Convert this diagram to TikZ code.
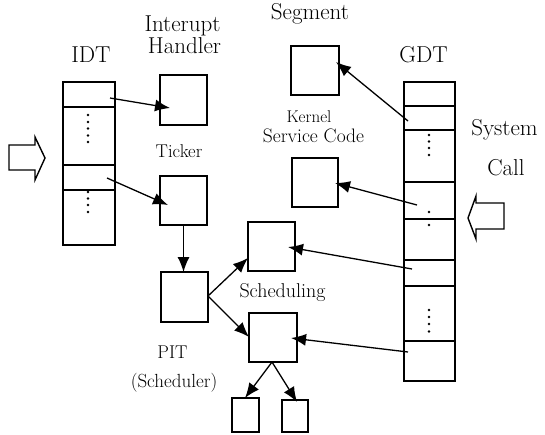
\documentclass[tikz,border=0pt]{standalone}
\usetikzlibrary{arrows.meta}
\begin{document}
\begin{tikzpicture}[x=1pt,y=1pt,
  box/.style={draw,line width=1.4pt,inner sep=0pt,outer sep=0pt},
  idtcell/.style={box,minimum width=52pt},
  gdtcell/.style={box,minimum width=51pt},
  big/.style={font=\fontsize{23}{26}\selectfont,inner sep=0pt,anchor=base},
  small/.style={font=\fontsize{#1}{20}\selectfont,inner sep=0pt,anchor=base},
  conn/.style={line width=1.3pt,-{Latex[length=15pt,width=12pt]}},
  hollow/.style={draw,line width=1.4pt,line join=miter},
  dotmark/.style={circle,fill,inner sep=0pt,minimum size=2.8pt}]

\useasboundingbox (0,0) rectangle (545,-434);

% ---------- IDT table ----------
\node[idtcell,minimum height=25pt] (idt1) at (89,-94.5) {};
\node[idtcell,minimum height=58pt] (idt2) at (89,-136) {};
\node[idtcell,minimum height=25pt] (idt3) at (89,-177.5) {};
\node[idtcell,minimum height=55pt] (idt4) at (89,-217.5) {};
\foreach \y in {115,122,128.5,135.5,142} \node[dotmark] at (88,-\y) {};
\foreach \y in {192,198.5,205,212} \node[dotmark] at (88,-\y) {};

% ---------- GDT table ----------
\node[gdtcell,minimum height=24pt] (g1) at (429.5,-94) {};
\node[gdtcell,minimum height=24pt] (g2) at (429.5,-118) {};
\node[gdtcell,minimum height=52pt] (g3) at (429.5,-156) {};
\node[gdtcell,minimum height=37pt] (g4) at (429.5,-200.5) {};
\node[gdtcell,minimum height=41pt] (g5) at (429.5,-239.5) {};
\node[gdtcell,minimum height=26pt] (g6) at (429.5,-273) {};
\node[gdtcell,minimum height=55pt] (g7) at (429.5,-313.5) {};
\node[gdtcell,minimum height=40pt] (g8) at (429.5,-361) {};
\foreach \y in {135,141.5,148,155} \node[dotmark] at (429,-\y) {};
\foreach \y in {212,225} \node[dotmark] at (429,-\y) {};
\foreach \y in {310,317,324,331.5} \node[dotmark] at (429,-\y) {};

% ---------- code boxes ----------
\node[box,minimum width=47pt,minimum height=50pt] (ih)  at (183.5,-100) {};
\node[box,minimum width=47pt,minimum height=49pt] (tick) at (183.5,-200.5) {};
\node[box,minimum width=47pt,minimum height=50pt] (pit) at (184.5,-297) {};
\node[box,minimum width=48pt,minimum height=49pt] (seg) at (315,-70.5) {};
\node[box,minimum width=46pt,minimum height=49pt] (kern) at (315,-182.5) {};
\node[box,minimum width=47pt,minimum height=49pt] (sch1) at (271.5,-246.5) {};
\node[box,minimum width=48pt,minimum height=49pt] (sch2) at (273,-337.5) {};
\node[box,minimum width=27pt,minimum height=34pt] (sm1) at (245.5,-415) {};
\node[box,minimum width=26pt,minimum height=32pt] (sm2) at (295,-416) {};

% ---------- labels ----------
\node[big] (tIDT) at (91,-62) {IDT};
\node[big] (tInt) at (182.5,-31) {Interupt};
\node[big] (tHan) at (184.5,-53.5) {Handler};
\node[big] (tSeg) at (310,-19.5) {Segment};
\node[big] (tGDT) at (423.5,-62) {GDT};
\node[big] (tSys) at (504.5,-135) {System};
\node[big] (tCall) at (506,-175) {Call};
\node[small=18.5] (tTick) at (179,-157) {Ticker};
\node[small=17] (tKer) at (309,-122.5) {Kernel};
\node[small=19.5] (tSvc) at (313.5,-142.5) {Service Code};
\node[small=20] (tSch) at (282.5,-297) {Scheduling};
\node[small=18.5] (tPIT) at (172.5,-358) {PIT};
\node[small=19] (tSchr) at (174,-387) {(Scheduler)};

% ---------- entry arrows (hollow) ----------
\draw[hollow] (9,-145) -- (35,-145) -- (35,-137) -- (45,-158) -- (35,-180)
  -- (35,-170) -- (9,-170) -- cycle;
\draw[hollow] (468,-218) -- (476,-196) -- (476,-203) -- (504,-203) -- (504,-229)
  -- (476,-229) -- (476,-239) -- cycle;

% ---------- connectors ----------
\draw[conn] ([shift={(-5,-3.5)}]idt1.east) -- ([shift={(10,-8)}]ih.west);
\draw[conn] ([shift={(-8,-0.5)}]idt3.east) -- ([shift={(8,-4.5)}]tick.west);
\draw[conn] (tick.south) -- (tick.south |- pit.north);
\draw[conn] ([yshift=1pt]pit.east) -- ([yshift=-11.5pt]sch1.west);
\draw[conn] ([yshift=1pt]pit.east) -- ([yshift=0.5pt]sch2.west);
\draw[conn] ([xshift=-1pt]sch2.south) -- ([xshift=-0.5pt]sm1.north);
\draw[conn] ([xshift=-1pt]sch2.south) -- ([xshift=2pt,yshift=-2pt]sm2.north);
\draw[conn] ([shift={(4,-3)}]g2.west) -- ([shift={(-3,8.5)}]seg.east);
\draw[conn] ([shift={(13,-4.5)}]g4.west) -- ([shift={(-3,-0.5)}]kern.east);
\draw[conn] ([shift={(8,4)}]g6.west) -- ([shift={(-7,-0.5)}]sch1.east);
\draw[conn] ([shift={(4,9)}]g8.west) -- ([shift={(-6,-0.5)}]sch2.east);
\end{tikzpicture}
\end{document}
